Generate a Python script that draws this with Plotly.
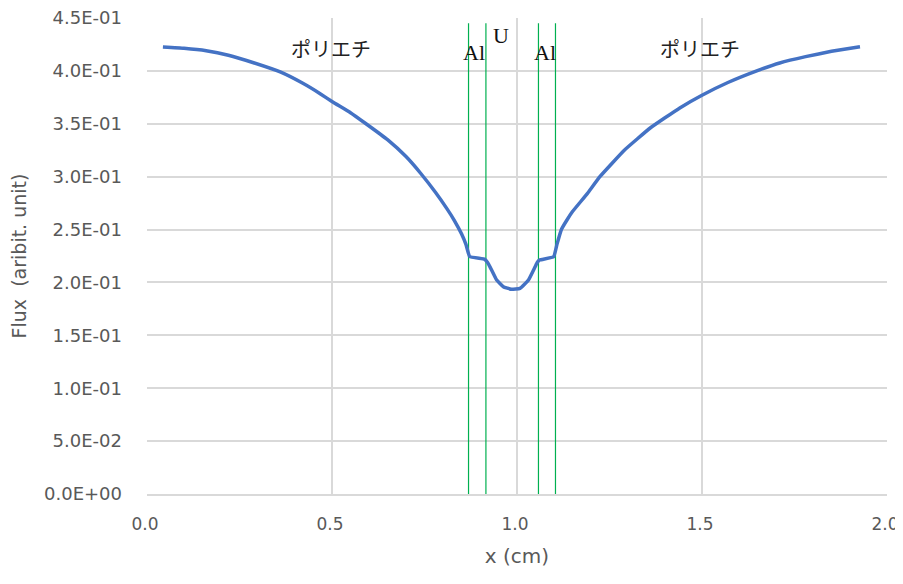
import plotly.graph_objects as go

# flux profile
x_cm = [0.043, 0.10, 0.16, 0.22, 0.29, 0.36, 0.42, 0.47, 0.50, 0.55, 0.59, 0.65,
        0.70, 0.74, 0.78, 0.81, 0.83, 0.85, 0.862, 0.872, 0.913, 0.920, 0.927,
        0.945, 0.963, 0.985, 1.008, 1.031, 1.049, 1.055, 1.061, 1.099, 1.108,
        1.12, 1.135, 1.15, 1.19, 1.224, 1.29, 1.36, 1.44, 1.50, 1.57, 1.648,
        1.71, 1.78, 1.85, 1.927]
flux = [0.4225, 0.4213, 0.4190, 0.4148, 0.4075, 0.399, 0.3885, 0.378, 0.371,
        0.3605, 0.3505, 0.335, 0.319, 0.303, 0.285, 0.270, 0.259, 0.246, 0.236,
        0.2245, 0.2218, 0.219, 0.2148, 0.2023, 0.196, 0.1935, 0.1944, 0.2023,
        0.2148, 0.219, 0.2212, 0.2243, 0.236, 0.250, 0.259, 0.267, 0.284, 0.300,
        0.325, 0.346, 0.365, 0.377, 0.389, 0.400, 0.4075, 0.4135, 0.4185, 0.4228]

# region boundaries (cm)
boundaries = [0.869, 0.916, 1.058, 1.104]
boundary_top = 0.445

region_labels = ["ポリエチ", "Al", "U", "Al", "ポリエチ"]
label_x = [0.497, 0.884, 0.957, 1.076, 1.495]
label_y = [0.4215, 0.417, 0.433, 0.417, 0.4215]

y_ticks = [i * 0.05 for i in range(10)]
y_ticktext = [f"{v:.1E}" for v in y_ticks]
x_ticks = [0.0, 0.5, 1.0, 1.5, 2.0]
x_ticktext = [f"{v:.1f}" for v in x_ticks]

fig = go.Figure()

for b in boundaries:
    fig.add_trace(go.Scatter(x=[b, b], y=[0, boundary_top], mode="lines",
                             line=dict(color="#00b050", width=1.2), showlegend=False,
                             hoverinfo="skip"))

fig.add_trace(go.Scatter(x=x_cm, y=flux, mode="lines",
                         line=dict(color="#4472c4", width=3.5, shape="spline", smoothing=0.3),
                         showlegend=False))

for txt, lx, ly in zip(region_labels, label_x, label_y):
    if txt in ("Al", "U"):
        font = dict(family="Liberation Serif", size=22, color="#111111")
    else:
        font = dict(family="Noto Sans CJK JP", size=20, color="#222222")
    fig.add_annotation(x=lx, y=ly, text=txt, showarrow=False, font=font)

# page body adds an 8px offset, so the figure is 8px smaller each way
fig.update_layout(
    width=895, height=576,
    margin=dict(l=139, r=16, t=10, b=90),
    plot_bgcolor="white", paper_bgcolor="white",
    font=dict(family="DejaVu Sans", size=18, color="#595959"),
)
fig.update_xaxes(range=[0, 2], tickvals=x_ticks, ticktext=x_ticktext,
                 showgrid=True, gridcolor="#d9d9d9", gridwidth=1.5,
                 showline=True, linecolor="#d9d9d9", linewidth=1.5,
                 zeroline=False, ticks="", ticklabelstandoff=14, automargin=False,
                 ticklabeloverflow="allow", ticklabelshift=-2, tickfont=dict(size=17),
                 title=dict(text="x (cm)", standoff=16, font=dict(size=20)))
fig.update_yaxes(range=[0, 0.45], tickvals=y_ticks, ticktext=y_ticktext,
                 showgrid=True, gridcolor="#d9d9d9", gridwidth=1.5,
                 zeroline=False, ticks="", ticklabelstandoff=24, automargin=False,
                 ticklabeloverflow="allow",
                 title=dict(text="Flux\u00a0\u00a0(aribit. unit)", standoff=12, font=dict(size=19)))

fig.write_html("out.html")
